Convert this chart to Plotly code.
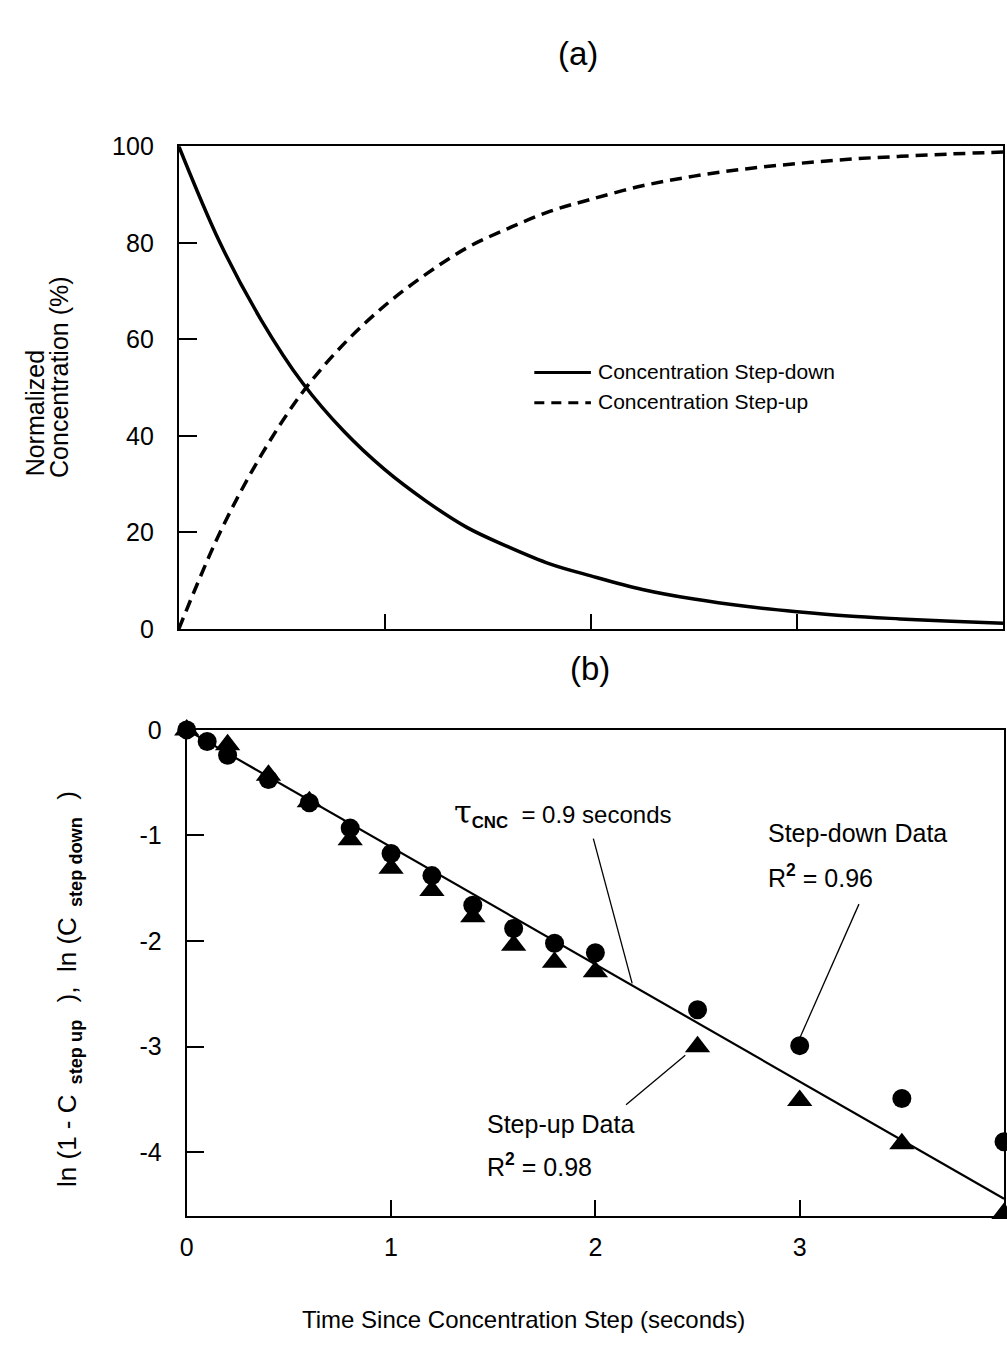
import plotly.graph_objects as go

# ---- Panel (a): normalized concentration after a step change ----
t_curve = [0, 0.2, 0.4, 0.6, 0.8, 1.0, 1.2, 1.4, 1.6, 1.8, 2.0,
           2.25, 2.5, 2.75, 3.0, 3.25, 3.5, 3.75, 4.0]
step_down_pct = [100, 80, 64, 51, 41, 33, 26.5, 21, 17, 13.5, 11,
                 8.2, 6.2, 4.7, 3.6, 2.7, 2.1, 1.6, 1.2]
step_up_pct = [0, 20, 36, 49, 59, 67, 73.5, 79, 83, 86.5, 89,
               91.8, 93.8, 95.3, 96.4, 97.3, 97.9, 98.4, 98.8]

# ---- Panel (b): log-transformed data and fitted line ----
t_down = [0, 0.1, 0.2, 0.4, 0.6, 0.8, 1.0, 1.2, 1.4, 1.6, 1.8, 2.0, 2.5, 3.0, 3.5, 4.0]
ln_down = [0, -0.11, -0.24, -0.47, -0.69, -0.93, -1.17, -1.38, -1.66, -1.88,
           -2.02, -2.11, -2.65, -2.99, -3.49, -3.90]
t_up = [0, 0.2, 0.4, 0.6, 0.8, 1.0, 1.2, 1.4, 1.6, 1.8, 2.0, 2.5, 3.0, 3.5, 4.0]
ln_up = [0, -0.14, -0.43, -0.68, -1.04, -1.31, -1.52, -1.77, -2.04, -2.20,
         -2.29, -3.00, -3.51, -3.92, -4.58]
fit_t = [0, 4]
fit_ln = [0, -4.44]

x_ticks = [0, 1, 2, 3, 4]
y_ticks_a = [0, 20, 40, 60, 80, 100]
y_ticks_b = [0, -1, -2, -3, -4]

W, H = 1007, 1355
FONT = "Liberation Sans, Arial, Helvetica, sans-serif"


def px(x):
    return x / W


def py(y):
    return 1 - y / H


fig = go.Figure()

fig.add_trace(go.Scatter(x=t_curve, y=step_down_pct, mode="lines",
                         line=dict(color="black", width=3.5, shape="spline"),
                         xaxis="x", yaxis="y", showlegend=False))
fig.add_trace(go.Scatter(x=t_curve, y=step_up_pct, mode="lines",
                         line=dict(color="black", width=3.5, shape="spline", dash="12px,7px"),
                         xaxis="x", yaxis="y", showlegend=False))

fig.add_trace(go.Scatter(x=fit_t, y=fit_ln, mode="lines",
                         line=dict(color="black", width=2.2),
                         xaxis="x2", yaxis="y2", showlegend=False))
fig.add_trace(go.Scatter(x=t_up, y=ln_up, mode="markers",
                         marker=dict(symbol="triangle-up", size=22, color="black"),
                         cliponaxis=False, xaxis="x2", yaxis="y2", showlegend=False))
fig.add_trace(go.Scatter(x=t_down, y=ln_down, mode="markers",
                         marker=dict(symbol="circle", size=19, color="black"),
                         cliponaxis=False, xaxis="x2", yaxis="y2", showlegend=False))

axis_common = dict(showline=True, mirror=True, linecolor="black", linewidth=2,
                   showgrid=False, zeroline=False, ticks="inside", tickwidth=2,
                   tickcolor="black", tickfont=dict(family=FONT, size=25, color="black"))

fig.update_layout(
    width=W, height=H,
    margin=dict(l=0, r=0, t=0, b=0),
    paper_bgcolor="white", plot_bgcolor="white",
    font=dict(family=FONT, color="black"),
    xaxis=dict(domain=[px(173), px(1003)], range=[0, 4], anchor="y",
               tickvals=[1, 2, 3], ticklen=15, showticklabels=False, **axis_common),
    yaxis=dict(domain=[py(628), py(135)], range=[0, 100], anchor="x",
               tickvals=y_ticks_a, ticktext=[str(v) for v in y_ticks_a],
               ticklen=18, ticklabelstandoff=18, **axis_common),
    xaxis2=dict(domain=[px(181), px(1004)], range=[0, 4], anchor="y2",
                tickvals=x_ticks, ticktext=[str(v) for v in x_ticks],
                ticklen=16, ticklabelstandoff=8, **axis_common),
    yaxis2=dict(domain=[py(1227), py(731)], range=[-4.6, 0], anchor="x2",
                tickvals=y_ticks_b, ticktext=[str(v) for v in y_ticks_b],
                ticklen=17, ticklabelstandoff=18, **axis_common),
)

annotations = []


def text(x, y, s, size, xanchor="center", angle=0):
    annotations.append(dict(x=px(x), y=py(y), xref="paper", yref="paper",
                            text=s, showarrow=False, xanchor=xanchor, yanchor="middle",
                            textangle=angle, font=dict(family=FONT, size=size, color="black")))


# panel labels
text(575, 40, "(a)", 33)
text(587, 668, "(b)", 33)

# axis titles
text(28, 408, "Normalized", 25, angle=-90)
text(53, 371, "Concentration (%)", 25, angle=-90)
text(62, 996,
     "ln (1 - C<sub><b>  step up  </b></sub> ),  ln (C<sub><b>  step down  </b></sub> )",
     26, angle=-90)
text(520, 1333, "Time Since Concentration Step (seconds)", 24)

# legend for panel (a)
text(593, 365, "Concentration Step-down", 21, xanchor="left")
text(593, 396, "Concentration Step-up", 21, xanchor="left")

# panel (b) labels
text(448, 815,
     "<span style='font-family:DejaVu Serif;font-size:32px'>τ</span>"
     "<sub><b>CNC</b></sub>  = 0.9 seconds", 24, xanchor="left")
text(764, 836, "Step-down Data", 25, xanchor="left")
text(764, 880, "R<sup><b>2</b></sup> = 0.96", 25, xanchor="left")
text(481, 1133, "Step-up Data", 25, xanchor="left")
text(481, 1175, "R<sup><b>2</b></sup> = 0.98", 25, xanchor="left")

fig.update_layout(annotations=annotations)

shapes = [
    # legend line samples
    dict(type="line", xref="paper", yref="paper", x0=px(531), x1=px(588), y0=py(366), y1=py(366),
         line=dict(color="black", width=3)),
    dict(type="line", xref="paper", yref="paper", x0=px(531), x1=px(588), y0=py(397), y1=py(397),
         line=dict(color="black", width=3, dash="10px,7px")),
    # leader lines in panel (b)
    dict(type="line", xref="x2", yref="y2", x0=1.99, y0=-1.03, x1=2.18, y1=-2.40,
         line=dict(color="black", width=1.3)),
    dict(type="line", xref="x2", yref="y2", x0=3.29, y0=-1.65, x1=3.0, y1=-2.92,
         line=dict(color="black", width=1.3)),
    dict(type="line", xref="x2", yref="y2", x0=2.15, y0=-3.55, x1=2.44, y1=-3.08,
         line=dict(color="black", width=1.3)),
]
fig.update_layout(shapes=shapes)

fig.write_html("out.html")
